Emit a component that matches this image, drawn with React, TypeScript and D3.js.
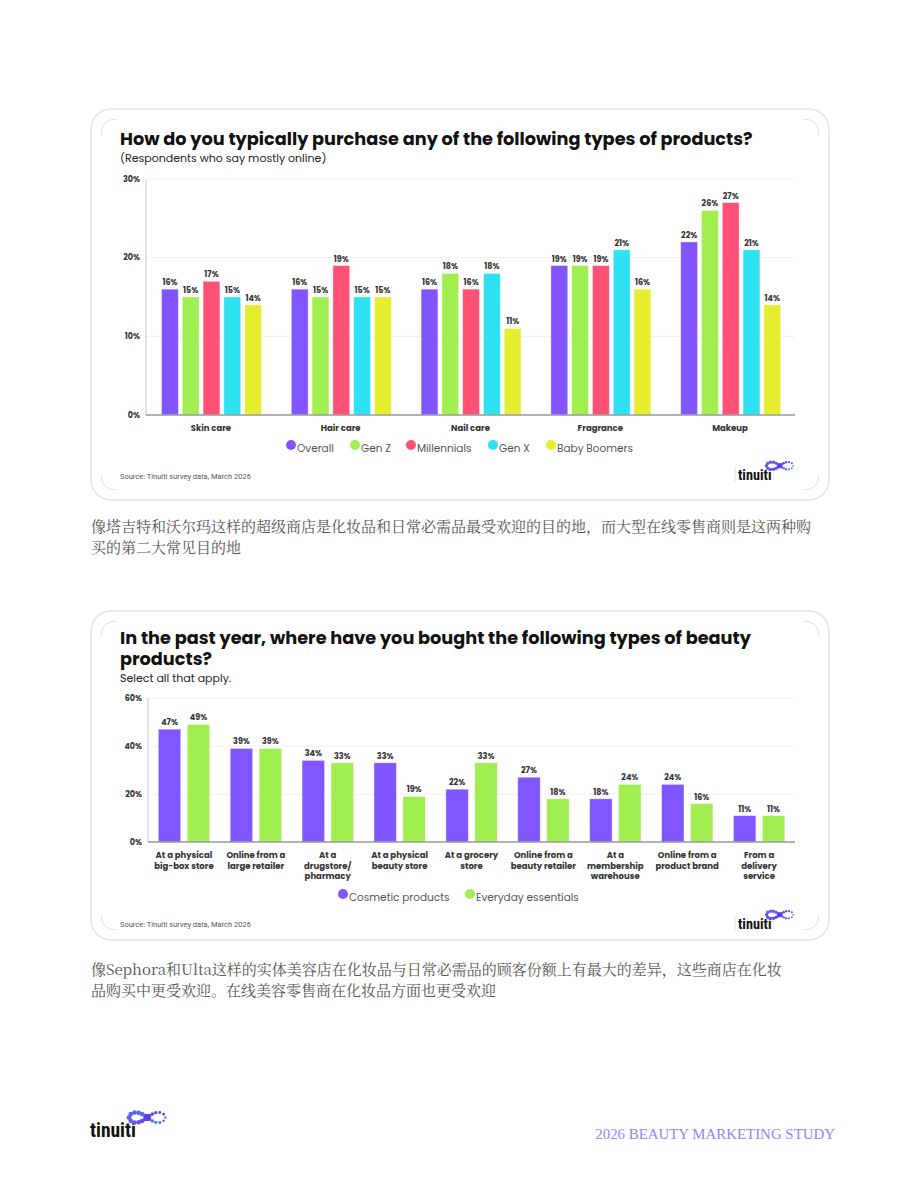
import React from "react";
import * as d3 from "d3";

// ---- Chart 1: purchase channel by product type ----
const productTypes = ["Skin care", "Hair care", "Nail care", "Fragrance", "Makeup"];
const generations = ["Overall", "Gen Z", "Millennials", "Gen X", "Baby Boomers"];
const overallValues = [16, 16, 16, 19, 22];
const genZValues = [15, 15, 18, 19, 26];
const millennialValues = [17, 19, 16, 19, 27];
const genXValues = [15, 15, 18, 21, 21];
const boomerValues = [14, 15, 11, 16, 14];
const chart1Ticks = [0, 10, 20, 30];

// ---- Chart 2: where beauty products were bought ----
const storeTypes = [
  ["At a physical", "big-box store"],
  ["Online from a", "large retailer"],
  ["At a", "drugstore/", "pharmacy"],
  ["At a physical", "beauty store"],
  ["At a grocery", "store"],
  ["Online from a", "beauty retailer"],
  ["At a", "membership", "warehouse"],
  ["Online from a", "product brand"],
  ["From a", "delivery", "service"],
];
const productKinds = ["Cosmetic products", "Everyday essentials"];
const cosmeticValues = [47, 39, 34, 33, 22, 27, 18, 24, 11];
const essentialsValues = [49, 39, 33, 19, 33, 18, 24, 16, 11];
const chart2Ticks = [0, 20, 40, 60];

const PURPLE = "#8155ff";
const GREEN = "#a0ee4f";
const PINK = "#ff5076";
const CYAN = "#2ee1f3";
const YELLOW = "#e7ee2f";

const FONT = "Poppins, Inter, 'Open Sans', sans-serif";

type Series = { name: string; color: string; values: number[] };

function BarChart(props: {
  categories: string[][];
  series: Series[];
  ticks: number[];
  left: number;
  right: number;
  top: number;
  bottom: number;
  groupStart: number;
  groupWidth: number;
  barPad: number;
  tickX: number;
  catY: number;
  catLineH: number;
  legendY: number;
  legendX: number[];
}) {
  const {
    categories, series, ticks, left, right, top, bottom,
    groupStart, groupWidth, barPad, tickX, catY, catLineH, legendY, legendX,
  } = props;
  const keys = categories.map((c) => c.join(" "));
  const x = d3.scaleBand<string>().domain(keys).range([left, right]).padding(0);
  const inner = d3
    .scaleBand<string>()
    .domain(series.map((s) => s.name))
    .range([groupStart, groupStart + groupWidth])
    .paddingInner(barPad)
    .paddingOuter(0);
  const y = d3.scaleLinear().domain([0, ticks[ticks.length - 1]]).range([bottom, top]);

  return (
    <g>
      {ticks.map((t) => (
        <g key={t}>
          {t > 0 && (
            <line x1={left} x2={right} y1={y(t)} y2={y(t)} stroke="#f0f0f0" strokeWidth={1} />
          )}
          <text
            x={tickX}
            y={y(t)}
            dy="0.35em"
            textAnchor="end"
            fontFamily={FONT}
            fontWeight={700}
            fontSize={8}
            fill="#333"
          >
            {t}%
          </text>
        </g>
      ))}
      <line x1={left} x2={left} y1={top} y2={bottom} stroke="#c8c8c8" strokeWidth={1} />
      {keys.map((k, ci) => (
        <g key={k}>
          {series.map((s) => {
            const v = s.values[ci];
            const bx = (x(k) as number) + (inner(s.name) as number);
            return (
              <g key={s.name}>
                <rect
                  x={bx}
                  y={y(v)}
                  width={inner.bandwidth()}
                  height={bottom - y(v)}
                  fill={s.color}
                  stroke="#ffffff"
                  strokeOpacity={0.5}
                  strokeWidth={0.8}
                />
                <text
                  x={bx + inner.bandwidth() / 2}
                  y={y(v) - 4}
                  textAnchor="middle"
                  fontFamily={FONT}
                  fontWeight={700}
                  fontSize={8}
                  fill="#333"
                >
                  {v}%
                </text>
              </g>
            );
          })}
          <text
            x={(x(k) as number) + x.bandwidth() / 2}
            y={catY}
            textAnchor="middle"
            fontFamily={FONT}
            fontWeight={700}
            fontSize={8.5}
            fill="#333"
          >
            {categories[ci].map((line, li) => (
              <tspan key={li} x={(x(k) as number) + x.bandwidth() / 2} dy={li === 0 ? 0 : catLineH}>
                {line}
              </tspan>
            ))}
          </text>
        </g>
      ))}
      <line x1={left} x2={right} y1={bottom} y2={bottom} stroke="#999" strokeWidth={1.5} />
      {series.map((s, i) => (
        <g key={s.name}>
          <circle cx={legendX[i]} cy={legendY - 3} r={5} fill={s.color} />
          <text
            x={legendX[i] + 6}
            y={legendY + 1}
            dy="0.3em"
            fontFamily={FONT}
            fontSize={10.5}
            fill="#555"
          >
            {s.name}
          </text>
        </g>
      ))}
    </g>
  );
}

function Logo(props: { x: number; y: number; scale: number; divider?: boolean }) {
  const { x, y, scale, divider } = props;
  // dots of the infinity mark, laid out along a figure-eight
  const n = 24;
  const dots = d3.range(0, n).map((i) => {
    const t = (i / n) * Math.PI * 2;
    const d = 1 + Math.sin(t) * Math.sin(t);
    return {
      cx: 44 + (14 * Math.cos(t)) / d,
      cy: -15 + (11 * Math.sin(t) * Math.cos(t)) / d,
      r: 0.9 + 0.9 * Math.abs(Math.sin(t / 2)),
      color: d3.interpolateRgb("#4a80f0", "#7b2fe2")(i / n),
    };
  });
  return (
    <g transform={`translate(${x},${y}) scale(${scale})`}>
      {divider && <line x1={-3} x2={-3} y1={-14} y2={2} stroke="#ccc" strokeWidth={0.6} />}
      <text
        x={0}
        y={0}
        fontFamily="'Liberation Sans Narrow', 'Roboto Condensed', Roboto, sans-serif"
        fontWeight={700}
        fontSize={15}
        fill="#111"
      >
        tinuiti
      </text>
      {dots.map((d, i) => (
        <circle key={i} cx={d.cx} cy={d.cy} r={d.r} fill={d.color} />
      ))}
      <circle cx={44} cy={-15} r={2.6} fill="#5b3de6" />
    </g>
  );
}

function Card(props: { x: number; y: number; w: number; h: number }) {
  const { x, y, w, h } = props;
  const c = 16;
  return (
    <g>
      <rect x={x} y={y} width={w} height={h} rx={20} fill="#fff" stroke="#e4e4e4" strokeWidth={1.5} />
      <g fill="none" stroke="#d8d8d8" strokeWidth={0.8}>
        <path d={`M${x + 10},${y + 10 + c} Q${x + 10},${y + 10} ${x + 10 + c},${y + 10}`} />
        <path d={`M${x + w - 10 - c},${y + 10} Q${x + w - 10},${y + 10} ${x + w - 10},${y + 10 + c}`} />
        <path d={`M${x + 10},${y + h - 10 - c} Q${x + 10},${y + h - 10} ${x + 10 + c},${y + h - 10}`} />
        <path d={`M${x + w - 10},${y + h - 10 - c} Q${x + w - 10},${y + h - 10} ${x + w - 10 - c},${y + h - 10}`} />
      </g>
    </g>
  );
}

const CJK = "'Noto Serif CJK SC', 'Noto Sans CJK SC', serif";

export default function App() {
  const series1: Series[] = [
    { name: generations[0], color: PURPLE, values: overallValues },
    { name: generations[1], color: GREEN, values: genZValues },
    { name: generations[2], color: PINK, values: millennialValues },
    { name: generations[3], color: CYAN, values: genXValues },
    { name: generations[4], color: YELLOW, values: boomerValues },
  ];
  const series2: Series[] = [
    { name: productKinds[0], color: PURPLE, values: cosmeticValues },
    { name: productKinds[1], color: GREEN, values: essentialsValues },
  ];
  return (
    <svg
      width={920}
      height={1191}
      style={{ position: "absolute", left: 0, top: 0, display: "block" }}
    >
      <rect width={920} height={1191} fill="#fff" />

      <Card x={91} y={109} w={738} h={391} />
      <text x={120} y={144.5} fontFamily={FONT} fontWeight={700} fontSize={17.7} fill="#111">
        How do you typically purchase any of the following types of products?
      </text>
      <text x={120} y={162} fontFamily={FONT} fontSize={11} fill="#222">
        (Respondents who say mostly online)
      </text>
      <BarChart
        categories={productTypes.map((p) => [p])}
        series={series1}
        ticks={chart1Ticks}
        left={146}
        right={795}
        top={179}
        bottom={415}
        groupStart={15.5}
        groupWidth={100}
        barPad={0.19}
        tickX={140}
        catY={431}
        catLineH={10}
        legendY={448}
        legendX={[291, 355, 411, 493, 551]}
      />
      <text x={120} y={479} fontFamily="'Liberation Sans Narrow', Roboto, sans-serif" fontSize={7.5} fill="#555">
        Source: Tinuiti survey data, March 2026
      </text>
      <Logo x={738} y={480} scale={0.95} divider />

      <text fontFamily={CJK} fontSize={15} fill="#555">
        <tspan x={91} y={532}>
          像塔吉特和沃尔玛这样的超级商店是化妆品和日常必需品最受欢迎的目的地，而大型在线零售商则是这两种购
        </tspan>
        <tspan x={91} y={553}>
          买的第二大常见目的地
        </tspan>
      </text>

      <Card x={91} y={611} w={738} h={329} />
      <text fontFamily={FONT} fontWeight={700} fontSize={17.7} fill="#111">
        <tspan x={120} y={644}>
          In the past year, where have you bought the following types of beauty
        </tspan>
        <tspan x={120} y={664.5}>
          products?
        </tspan>
      </text>
      <text x={120} y={682} fontFamily={FONT} fontSize={11} fill="#222">
        Select all that apply.
      </text>
      <BarChart
        categories={storeTypes}
        series={series2}
        ticks={chart2Ticks}
        left={148}
        right={795}
        top={698}
        bottom={842}
        groupStart={10.3}
        groupWidth={51.4}
        barPad={0.224}
        tickX={142}
        catY={858}
        catLineH={10.5}
        legendY={897}
        legendX={[343, 470]}
      />
      <text x={120} y={927} fontFamily="'Liberation Sans Narrow', Roboto, sans-serif" fontSize={7.5} fill="#555">
        Source: Tinuiti survey data, March 2026
      </text>
      <Logo x={738} y={929} scale={0.95} divider />

      <text fontFamily={CJK} fontSize={15} fill="#555">
        <tspan x={91} y={975}>
          像Sephora和Ulta这样的实体美容店在化妆品与日常必需品的顾客份额上有最大的差异，这些商店在化妆
        </tspan>
        <tspan x={91} y={996}>
          品购买中更受欢迎。在线美容零售商在化妆品方面也更受欢迎
        </tspan>
      </text>

      <Logo x={90} y={1137} scale={1.3} />
      <text
        x={835}
        y={1139}
        textAnchor="end"
        fontFamily="'Liberation Serif', 'DejaVu Serif', serif"
        fontSize={14.9}
        fill="#9a80ff"
      >
        2026 BEAUTY MARKETING STUDY
      </text>
    </svg>
  );
}
